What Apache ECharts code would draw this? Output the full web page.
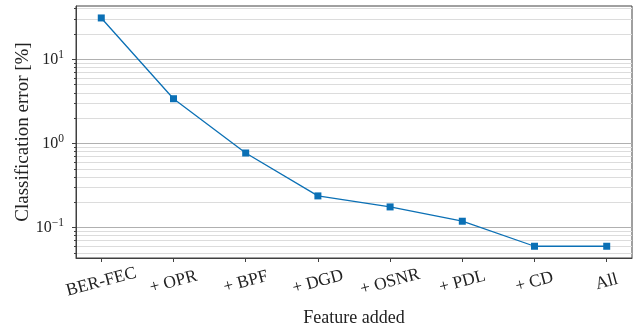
<!DOCTYPE html>
<html>
<head>
<meta charset="utf-8">
<script src="https://cdn.jsdelivr.net/npm/echarts@6/dist/echarts.min.js"></script>
<style>html,body{margin:0;padding:0;background:#fff}#c{width:633px;height:326px}</style>
</head>
<body>
<div id="c"></div>
<script>
const categories = ['BER-FEC', '+ OPR', '+ BPF', '+ DGD', '+ OSNR', '+ PDL', '+ CD', 'All'];
const errorValues = [31, 3.4, 0.77, 0.238, 0.176, 0.119, 0.06, 0.06];
const majorTicks = [0.1, 1, 10];
const majorTickLabels = ['10{s|\u22121}', '10{s|0}', '10{s|1}'];
const minorTicks = [0.05, 0.06, 0.07, 0.08, 0.09, 0.2, 0.3, 0.4, 0.5, 0.6, 0.7, 0.8, 0.9,
  2, 3, 4, 5, 6, 7, 8, 9, 20, 30, 40];
const yMin = 0.0435, yMax = 43;

const font = 'Liberation Serif';
const catIdx = categories.map((c, i) => i);
const chart = echarts.init(document.getElementById('c'), null, {renderer: 'canvas'});
chart.setOption({
  animation: false,
  backgroundColor: '#fff',
  grid: {left: 76, right: 1, top: 6, bottom: 68, containLabel: false, outerBoundsMode: 'none',
    show: true, borderColor: '#404040', borderWidth: 1, backgroundColor: 'transparent'},
  xAxis: {
    type: 'value', min: -0.35, max: 7.35,
    name: 'Feature added', nameLocation: 'middle', nameGap: 51, nameMoveOverlap: false,
    nameTextStyle: {fontFamily: font, fontSize: 18, color: '#222'},
    axisLine: {show: true, onZero: false, lineStyle: {color: '#404040', width: 1}},
    axisTick: {show: true, customValues: catIdx, length: 4, inside: false, lineStyle: {color: '#404040'}},
    axisLabel: {
      customValues: catIdx, rotate: 15, margin: 24, align: 'center', verticalAlign: 'middle',
      fontFamily: font, fontSize: 17.5, color: '#222',
      formatter: v => categories[Math.round(v)]
    },
    splitLine: {show: false}
  },
  yAxis: [{
    type: 'log', min: yMin, max: yMax, logBase: 10,
    name: 'Classification error [%]', nameLocation: 'middle', nameGap: 43, nameMoveOverlap: false,
    nameTextStyle: {fontFamily: font, fontSize: 19, color: '#222'},
    axisLine: {show: true, onZero: false, lineStyle: {color: '#404040', width: 1}},
    axisTick: {show: true, customValues: majorTicks, length: 4, lineStyle: {color: '#404040'}},
    axisLabel: {
      customValues: majorTicks, margin: 12, fontFamily: font, fontSize: 16, color: '#222',
      formatter: v => majorTickLabels[majorTicks.findIndex(t => Math.abs(Math.log10(t) - Math.log10(v)) < 1e-6)],
      rich: {s: {fontFamily: font, fontSize: 11.5, color: '#222', verticalAlign: 'top', padding: [0, 0, 9, 0]}}
    },
    splitLine: {show: true, lineStyle: {color: '#b0b0b0', width: 1}},
    z: 3
  }, {
    type: 'log', min: yMin, max: yMax, logBase: 10, position: 'left',
    axisLine: {show: false, onZero: false},
    axisTick: {show: true, customValues: minorTicks, length: 2, lineStyle: {color: '#404040'}},
    axisLabel: {show: false, customValues: minorTicks},
    splitLine: {show: true, lineStyle: {color: '#dcdcdc', width: 1}},
    z: 2
  }],
  series: [{
    type: 'line',
    yAxisIndex: 0,
    data: errorValues.map((v, i) => [i, v]),
    symbol: 'rect', symbolSize: 7,
    lineStyle: {color: '#0b70b5', width: 1.3},
    itemStyle: {color: '#0b70b5'},
    z: 5
  }]
});
</script>
</body>
</html>
